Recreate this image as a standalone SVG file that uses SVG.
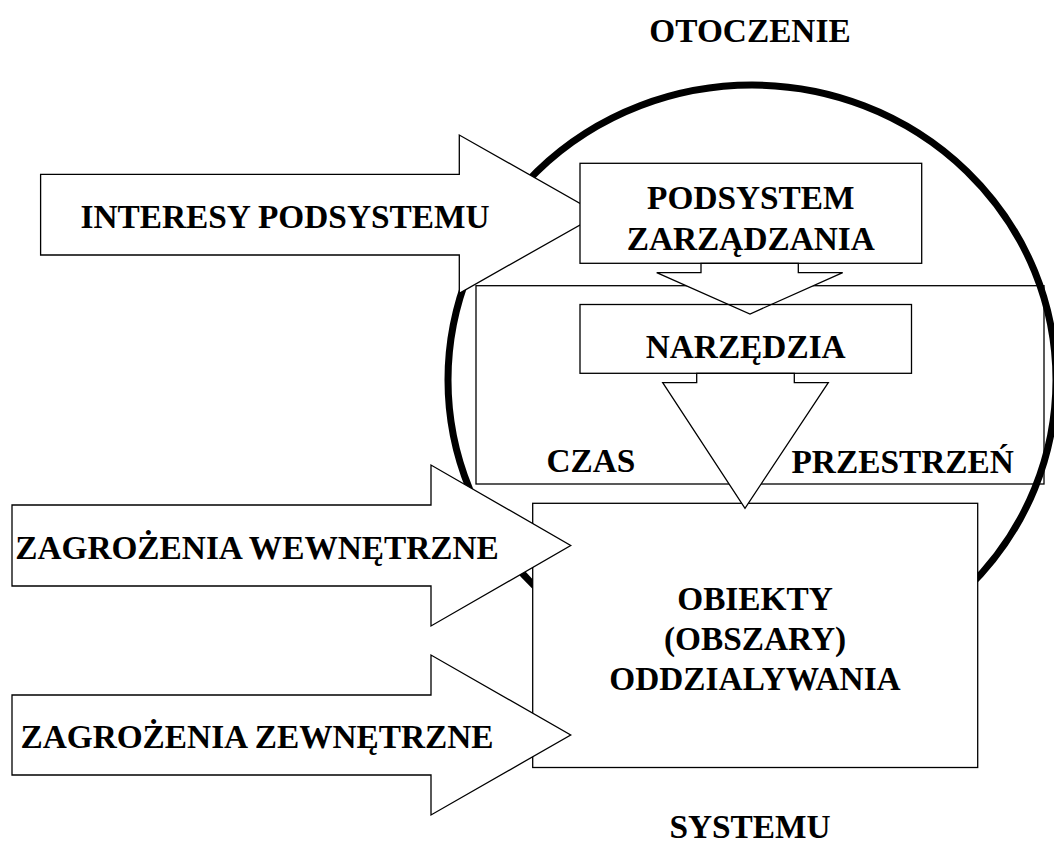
<svg xmlns="http://www.w3.org/2000/svg" width="1054" height="844" viewBox="0 0 1054 844">
<style>
.t{font-family:"Liberation Serif","Times New Roman",serif;font-weight:bold;font-size:33.33px;fill:#000}
.m{text-anchor:middle}
.box{fill:#fff;stroke:#000;stroke-width:1.3}
.open{fill:none;stroke:#000;stroke-width:1.3}
.arrow{fill:#fff;stroke:#000;stroke-width:1.3;stroke-linejoin:miter}
</style>
<rect width="1054" height="844" fill="#fff"/>
<g id="system-boundary">
<ellipse cx="752" cy="380" rx="304" ry="295" fill="none" stroke="#000" stroke-width="7"/>
</g>
<g id="frame">
<rect class="open" x="476" y="285.7" width="568" height="198.3"/>
<text class="t" x="546.5" y="472.3">CZAS</text>
<text class="t" x="791.5" y="472.7">PRZESTRZEŃ</text>
</g>
<g id="interesy">
<polygon class="arrow" points="40.6,174.3 459.3,174.3 459.3,135 599,214.2 459.3,293.3 459.3,255 40.6,255"/>
<text class="t m" x="285" y="228.3">INTERESY PODSYSTEMU</text>
</g>
<g id="podsystem">
<rect class="box" x="580" y="163.3" width="341.7" height="100"/>
<text class="t m" x="750.8" y="209.3">PODSYSTEM</text>
<text class="t m" x="750.8" y="250">ZARZĄDZANIA</text>
</g>
<g id="obiekty">
<rect class="box" x="532.7" y="503.3" width="445" height="264.2"/>
<text class="t m" x="755" y="610">OBIEKTY</text>
<text class="t m" x="755" y="650">(OBSZARY)</text>
<text class="t m" x="755" y="690">ODDZIALYWANIA</text>
</g>
<g id="connectors">
<polygon class="arrow" points="701,263.3 701,272.7 656.7,272.7 750,314 842.7,272.7 798.3,272.7 798.3,263.3"/>
<polygon class="arrow" points="696.7,373.3 696.7,382.7 662.7,382.7 745,508.3 828.3,382.7 794.3,382.7 794.3,373.3"/>
</g>
<g id="narzedzia">
<rect class="open" x="580" y="304.5" width="331.5" height="68.8"/>
<text class="t m" x="745.7" y="358.3">NARZĘDZIA</text>
</g>
<g id="zagrozenia-wewnetrzne">
<polygon class="arrow" points="12,505 431,505 431,465 570.7,545.5 431,626 431,586 12,586"/>
<text class="t m" x="257" y="559.3">ZAGROŻENIA WEWNĘTRZNE</text>
</g>
<g id="zagrozenia-zewnetrzne">
<polygon class="arrow" points="12,695 431,695 431,655 570.7,735 431,815 431,775 12,775"/>
<text class="t m" x="257" y="748.3">ZAGROŻENIA ZEWNĘTRZNE</text>
</g>
<g id="labels">
<text class="t m" x="750" y="42.3">OTOCZENIE</text>
<text class="t m" x="750" y="837.5">SYSTEMU</text>
</g>
</svg>
